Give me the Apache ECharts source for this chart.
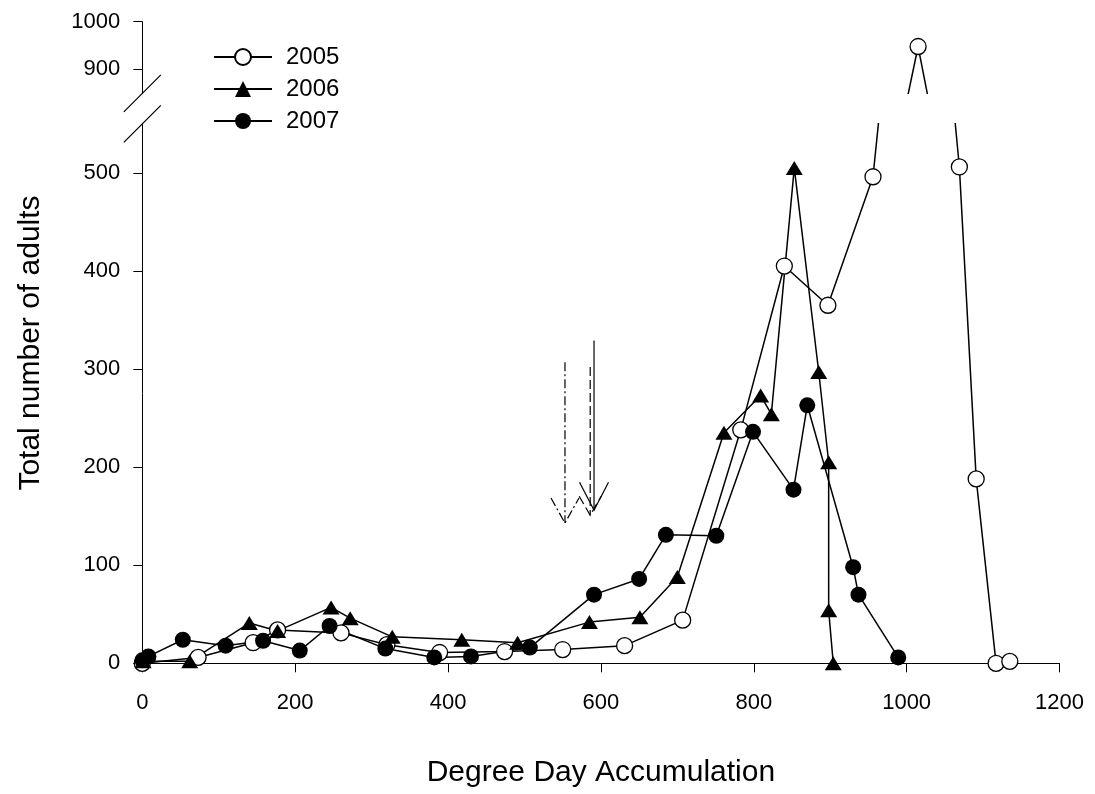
<!DOCTYPE html>
<html>
<head>
<meta charset="utf-8">
<script src="https://cdn.jsdelivr.net/npm/echarts@6/dist/echarts.min.js"></script>
<style>
  html, body { margin: 0; padding: 0; background: #fff; }
  #chart { width: 1095px; height: 794px; }
</style>
</head>
<body>
<div id="chart"></div>
<script>
// Degree-day accumulation (x) and total number of adults caught (y), by season
const dd2005 = [0, 73, 145, 177, 260, 320, 389, 474, 550, 631, 707, 783, 840, 897, 956, 1015, 1069, 1091, 1117, 1135];
const n2005  = [0, 6, 21, 34, 31, 19, 11, 12, 14, 18, 44, 238, 405, 365, 496, 948, 506, 188, 0, 2];

const dd2006 = [1, 62, 140, 177, 247, 272, 327, 418, 491, 585, 651, 700, 761, 809, 823, 853, 885, 898, 898, 904];
const n2006  = [2, 2, 41, 33, 57, 46, 27, 24, 21, 42, 47, 88, 235, 273, 254, 505, 297, 205, 54, 0];

const dd2007 = [0, 8, 53, 109, 158, 206, 245, 318, 382, 430, 507, 591, 650, 685, 751, 799, 852, 870, 930, 937, 989];
const n2007  = [3, 7, 24, 18, 23, 13, 38, 15, 6, 7, 16, 70, 86, 131, 130, 236, 177, 263, 98, 70, 6];

// Axis ticks (the y axis is broken between 550 and 850)
const xTicks = [0, 200, 400, 600, 800, 1000, 1200];
const yTicksLower = [0, 100, 200, 300, 400, 500];
const yTicksUpper = [900, 1000];

// Marker arrows: degree-day position, top of shaft, arrow tip (in adults scale)
const arrowX   = [553, 586, 591];
const arrowTop = [307, 302, 329];
const arrowTip = [143, 151, 156];

const seriesNames = ['2005', '2006', '2007'];

// ---- layout / styling ----
const FONT = '"Liberation Sans", Arial, Helvetica, sans-serif';
const LEFT = 142.3, RIGHT = 35.5;
const LOWER_TOP = 123.8, LOWER_BOTTOM = 130.7;
const UPPER_TOP = 21.7, UPPER_HEIGHT = 71.6;
const arrowStyles = [
  { dash: [9, 3, 2, 3], hw: 14, hh: 25 },
  { dash: [9, 4], hw: 11, hh: 19 },
  { dash: null, hw: 14.5, hh: 28 }
];

const zip = (xs, ys) => xs.map((x, i) => [x, ys[i]]);
const plain = v => String(v);

const lineStyle = { color: '#000', width: 1.5 };
const openCircle = { color: '#fff', borderColor: '#000', borderWidth: 1.3 };
const filled = { color: '#000', borderColor: '#000', borderWidth: 0 };

function lineSeries(name, data, axis, symbol, size, itemStyle) {
  return {
    type: 'line', name, data,
    xAxisIndex: axis, yAxisIndex: axis,
    symbol, symbolSize: size, showAllSymbol: true,
    lineStyle, itemStyle, clip: true,
    emphasis: { disabled: true }, animation: false, z: 3
  };
}

const axisLine = { show: true, onZero: false, lineStyle: { color: '#000', width: 1 } };
const axisTick = { show: true, inside: false, length: 9, lineStyle: { color: '#000', width: 1 } };
const tickFont = { color: '#000', fontSize: 22, fontFamily: FONT, formatter: plain };

const chart = echarts.init(document.getElementById('chart'), null, { renderer: 'canvas' });

chart.setOption({
  backgroundColor: '#fff',
  animation: false,
  grid: [
    { left: LEFT, right: RIGHT, top: LOWER_TOP, bottom: LOWER_BOTTOM, containLabel: false },
    { left: LEFT, right: RIGHT, top: UPPER_TOP, height: UPPER_HEIGHT, containLabel: false }
  ],
  xAxis: [
    {
      gridIndex: 0, type: 'value', min: 0, max: 1200, interval: 200,
      axisLine, splitLine: { show: false },
      axisTick: { ...axisTick, customValues: xTicks },
      axisLabel: { ...tickFont, margin: 29, customValues: xTicks },
      name: 'Degree Day Accumulation', nameLocation: 'middle', nameGap: 94,
      nameTextStyle: { color: '#000', fontSize: 30, fontFamily: FONT }
    },
    { gridIndex: 1, type: 'value', min: 0, max: 1200, show: false }
  ],
  yAxis: [
    {
      gridIndex: 0, type: 'value', min: 0, max: 550,
      axisLine, splitLine: { show: false },
      axisTick: { ...axisTick, customValues: yTicksLower },
      axisLabel: { ...tickFont, margin: 22, customValues: yTicksLower }
    },
    {
      gridIndex: 1, type: 'value', min: 850, max: 1000,
      axisLine, splitLine: { show: false },
      axisTick: { ...axisTick, customValues: yTicksUpper },
      axisLabel: { ...tickFont, margin: 22, customValues: yTicksUpper }
    }
  ],
  legend: {
    data: seriesNames,
    orient: 'vertical', left: 213, top: 45, padding: 0,
    itemWidth: 58, itemHeight: 20, itemGap: 8,
    selectedMode: false,
    textStyle: { color: '#000', fontSize: 24, fontFamily: FONT, padding: [0, 0, 0, 9] }
  },
  series: [
    lineSeries('2005', zip(dd2005, n2005), 0, 'circle', 16, openCircle),
    lineSeries('2005', zip(dd2005, n2005), 1, 'circle', 16, openCircle),
    lineSeries('2006', zip(dd2006, n2006), 0, 'triangle', [17, 14], filled),
    lineSeries('2007', zip(dd2007, n2007), 0, 'circle', 16, filled),
    {
      type: 'custom', name: 'arrows',
      xAxisIndex: 0, yAxisIndex: 0,
      data: arrowX.map((x, i) => [x, arrowTop[i], arrowTip[i]]),
      encode: { x: 0, y: [1, 2] },
      silent: true, z: 2,
      renderItem(params, api) {
        const x = api.value(0);
        const top = api.coord([x, api.value(1)]);
        const tip = api.coord([x, api.value(2)]);
        const st = arrowStyles[params.dataIndex];
        const style = { stroke: '#000', fill: null, lineWidth: 1.2, lineDash: st.dash };
        return {
          type: 'group',
          children: [
            { type: 'line', shape: { x1: top[0], y1: top[1], x2: tip[0], y2: tip[1] }, style },
            { type: 'polyline', shape: { points: [[tip[0] - st.hw, tip[1] - st.hh], [tip[0], tip[1]], [tip[0] + st.hw, tip[1] - st.hh]] }, style }
          ]
        };
      }
    }
  ],
  graphic: [
    // axis break marks where the two y ranges meet
    { type: 'line', shape: { x1: LEFT - 18.5, y1: UPPER_TOP + UPPER_HEIGHT + 18.5, x2: LEFT + 18.5, y2: UPPER_TOP + UPPER_HEIGHT - 18.5 }, style: { stroke: '#000', lineWidth: 1.2 } },
    { type: 'line', shape: { x1: LEFT - 18.5, y1: LOWER_TOP + 18.5, x2: LEFT + 18.5, y2: LOWER_TOP - 18.5 }, style: { stroke: '#000', lineWidth: 1.2 } },
    // y axis title
    {
      type: 'text', x: 31, y: 343, rotation: Math.PI / 2,
      style: { text: 'Total number of adults', fill: '#000', fontSize: 30, fontFamily: FONT, align: 'center', verticalAlign: 'middle' }
    }
  ]
});
</script>
</body>
</html>
